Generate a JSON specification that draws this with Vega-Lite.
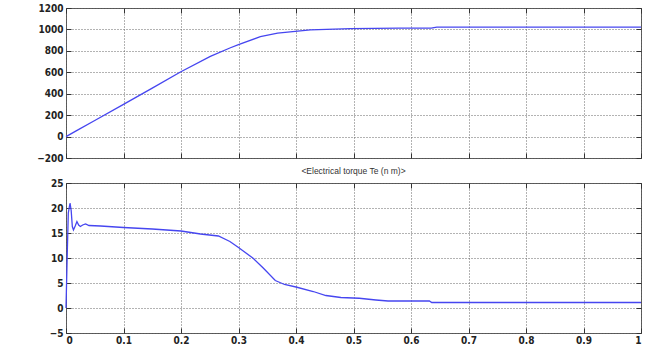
{
  "$schema": "https://vega.github.io/schema/vega-lite/v6.json",
  "padding": {"left": 5, "top": 2, "right": 7, "bottom": 2},
  "background": "white",
  "spacing": 2,
  "datasets": {
    "speed": [
      {"t": 0, "w": 0}, {"t": 0.02, "w": 60}, {"t": 0.05, "w": 150}, {"t": 0.1, "w": 300},
      {"t": 0.15, "w": 452}, {"t": 0.199, "w": 603}, {"t": 0.251, "w": 748},
      {"t": 0.286, "w": 829}, {"t": 0.3, "w": 858}, {"t": 0.338, "w": 933}, {"t": 0.368, "w": 966},
      {"t": 0.403, "w": 985}, {"t": 0.425, "w": 996}, {"t": 0.495, "w": 1007}, {"t": 0.58, "w": 1012},
      {"t": 0.635, "w": 1013}, {"t": 0.645, "w": 1021}, {"t": 0.8, "w": 1021}, {"t": 1, "w": 1021}
    ],
    "torque": [
      {"t": 0, "v": 0}, {"t": 0.002, "v": 10}, {"t": 0.004, "v": 19}, {"t": 0.007, "v": 21},
      {"t": 0.009, "v": 19.5}, {"t": 0.011, "v": 16.3}, {"t": 0.013, "v": 15.6}, {"t": 0.016, "v": 16.4},
      {"t": 0.019, "v": 17.3}, {"t": 0.022, "v": 16.6}, {"t": 0.025, "v": 16.3}, {"t": 0.029, "v": 16.6},
      {"t": 0.034, "v": 16.8}, {"t": 0.04, "v": 16.5}, {"t": 0.06, "v": 16.4}, {"t": 0.1, "v": 16.1},
      {"t": 0.15, "v": 15.8}, {"t": 0.2, "v": 15.4}, {"t": 0.234, "v": 14.8}, {"t": 0.265, "v": 14.4},
      {"t": 0.285, "v": 13.3}, {"t": 0.3, "v": 12.1}, {"t": 0.326, "v": 9.9}, {"t": 0.343, "v": 8},
      {"t": 0.364, "v": 5.5}, {"t": 0.38, "v": 4.7}, {"t": 0.4, "v": 4.2}, {"t": 0.43, "v": 3.3},
      {"t": 0.452, "v": 2.5}, {"t": 0.478, "v": 2.1}, {"t": 0.51, "v": 1.95}, {"t": 0.539, "v": 1.6},
      {"t": 0.56, "v": 1.4}, {"t": 0.6, "v": 1.4}, {"t": 0.632, "v": 1.4}, {"t": 0.636, "v": 1.1},
      {"t": 0.8, "v": 1.1}, {"t": 1, "v": 1.1}
    ]
  },
  "config": {
    "view": {"stroke": "#555", "strokeWidth": 1},
    "axis": {
      "labelFont": "Liberation Sans Narrow, DejaVu Sans Condensed, sans-serif",
      "labelFontSize": 10,
      "labelFontWeight": "bold",
      "labelColor": "#222",
      "tickColor": "#333",
      "tickSize": -5,
      "labelPadding": 8,
      "gridColor": "#666",
      "gridDash": [1, 2],
      "gridOpacity": 1,
      "gridWidth": 1,
      "domain": false,
      "title": null
    },
    "title": {
      "font": "Liberation Sans, DejaVu Sans, sans-serif",
      "fontSize": 8.5,
      "fontWeight": "normal",
      "color": "#333",
      "anchor": "middle",
      "offset": 3
    }
  },
  "vconcat": [
    {
      "width": 575,
      "height": 150,
      "data": {"name": "speed"},
      "resolve": {"axis": {"x": "independent", "y": "independent"}},
      "layer": [
        {
          "mark": {"type": "line", "color": "#4646f0", "strokeWidth": 1.3},
          "encoding": {
            "x": {"field": "t", "type": "quantitative", "scale": {"domain": [0, 1], "nice": false},
                  "axis": {"orient": "bottom", "values": [0, 0.1, 0.2, 0.3, 0.4, 0.5, 0.6, 0.7, 0.8, 0.9, 1], "labels": false, "grid": true, "minExtent": 0, "maxExtent": 0}},
            "y": {"field": "w", "type": "quantitative", "scale": {"domain": [-200, 1200], "nice": false, "zero": false},
                  "axis": {"orient": "left", "values": [-200, 0, 200, 400, 600, 800, 1000, 1200], "format": "d", "grid": true, "minExtent": 60, "maxExtent": 60}}
          }
        },
        {
          "mark": {"type": "line", "opacity": 0},
          "encoding": {
            "x": {"field": "t", "type": "quantitative",
                  "axis": {"orient": "top", "values": [0, 0.1, 0.2, 0.3, 0.4, 0.5, 0.6, 0.7, 0.8, 0.9, 1], "labels": false, "grid": false, "minExtent": 0, "maxExtent": 0}},
            "y": {"field": "w", "type": "quantitative",
                  "axis": {"orient": "right", "values": [-200, 0, 200, 400, 600, 800, 1000, 1200], "labels": false, "grid": false, "minExtent": 0, "maxExtent": 0}}
          }
        }
      ]
    },
    {
      "width": 575,
      "height": 150,
      "title": "<Electrical torque Te (n m)>",
      "data": {"name": "torque"},
      "resolve": {"axis": {"x": "independent", "y": "independent"}},
      "layer": [
        {
          "mark": {"type": "line", "color": "#4646f0", "strokeWidth": 1.3},
          "encoding": {
            "x": {"field": "t", "type": "quantitative", "scale": {"domain": [0, 1], "nice": false},
                  "axis": {"orient": "bottom", "values": [0, 0.1, 0.2, 0.3, 0.4, 0.5, 0.6, 0.7, 0.8, 0.9, 1], "format": "~g", "grid": true, "labelPadding": 7}},
            "y": {"field": "v", "type": "quantitative", "scale": {"domain": [-5, 25], "nice": false, "zero": false},
                  "axis": {"orient": "left", "values": [-5, 0, 5, 10, 15, 20, 25], "grid": true, "minExtent": 60, "maxExtent": 60}}
          }
        },
        {
          "mark": {"type": "line", "opacity": 0},
          "encoding": {
            "x": {"field": "t", "type": "quantitative",
                  "axis": {"orient": "top", "values": [0, 0.1, 0.2, 0.3, 0.4, 0.5, 0.6, 0.7, 0.8, 0.9, 1], "labels": false, "grid": false, "minExtent": 0, "maxExtent": 0}},
            "y": {"field": "v", "type": "quantitative",
                  "axis": {"orient": "right", "values": [-5, 0, 5, 10, 15, 20, 25], "labels": false, "grid": false, "minExtent": 0, "maxExtent": 0}}
          }
        }
      ]
    }
  ]
}
